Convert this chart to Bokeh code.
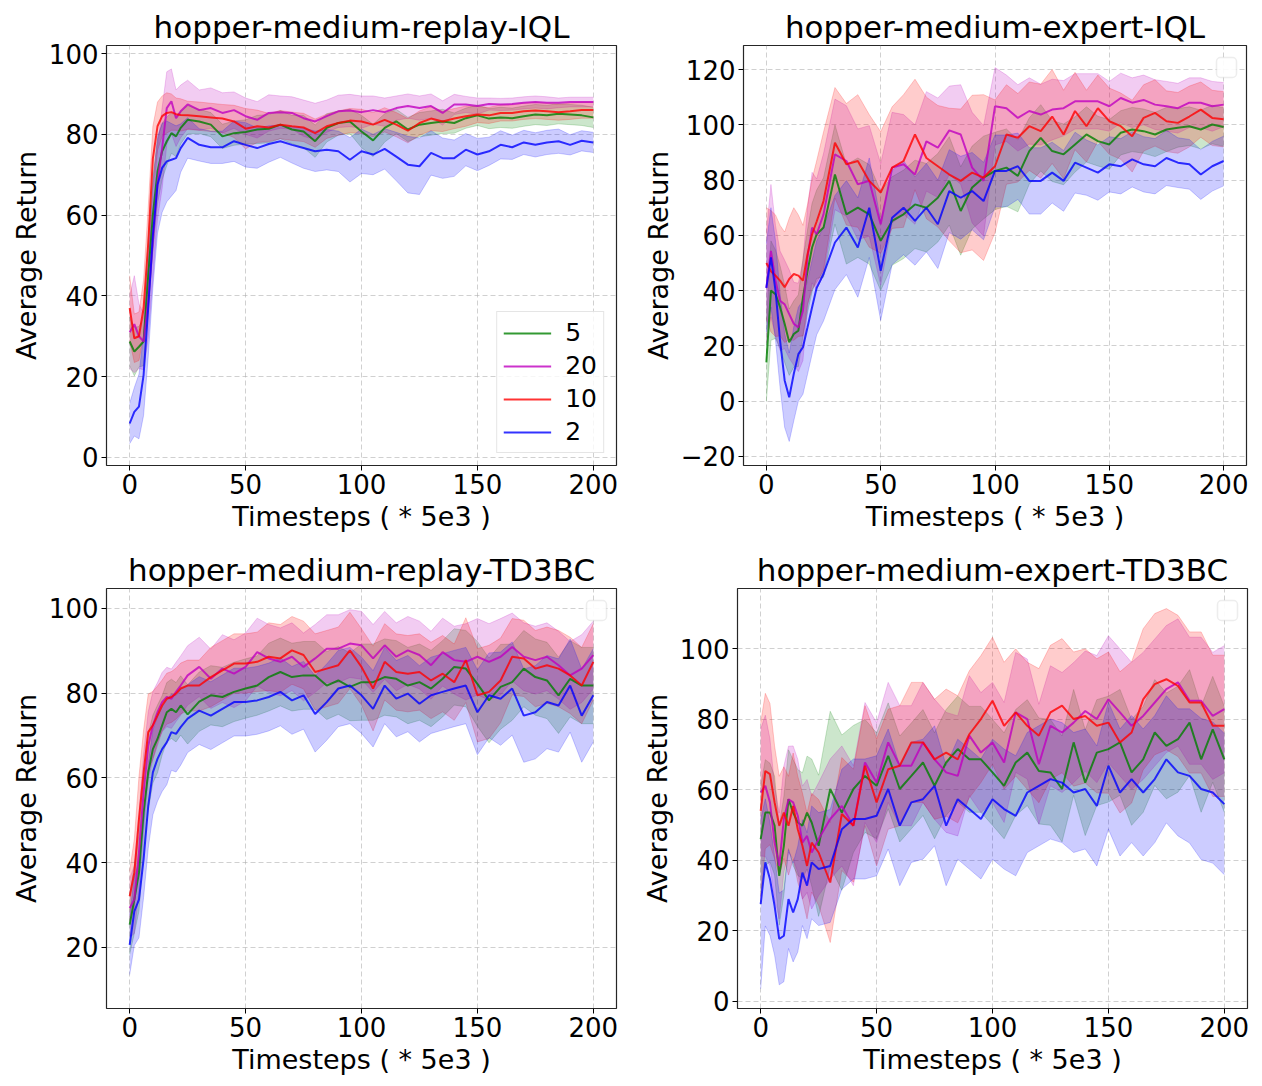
import numpy as np
from bokeh.plotting import figure
from bokeh.layouts import column, row
from bokeh.models import FixedTicker, Legend, LegendItem, BoxAnnotation, Range1d
from bokeh.embed import file_html
from bokeh.resources import INLINE

FONT = "DejaVu Sans"

# x positions (Timesteps, * 5e3); every series below has one value per step, 12 per row
steps = [0, 2, 4, 6, 8, 10, 12, 14, 16, 18, 20, 22,
         25, 30, 35, 40, 45, 50, 55, 60, 65, 70, 75, 80,
         85, 90, 95, 100, 105, 110, 115, 120, 125, 130, 135, 140,
         145, 150, 155, 160, 165, 170, 175, 180, 185, 190, 195, 200]

series_labels = ["5", "20", "10", "2"]
series_colors = ["#008000", "#bf00bf", "#ff0000", "#0000ff"]

titles = ["hopper-medium-replay-IQL", "hopper-medium-expert-IQL",
          "hopper-medium-replay-TD3BC", "hopper-medium-expert-TD3BC"]
x_ticks = [0, 50, 100, 150, 200]
x_label = "Timesteps ( * 5e3 )"
y_label = "Average Return"

# ---------------- hopper-medium-replay-IQL ----------------
mr_iql_mean_5 = [28.7, 26.2, 27.4, 28.7, 45, 60, 70.8, 75.8, 78.3, 80.3, 79.5, 81.6,
                 83.6, 83.2, 82.4, 79.5, 80.3, 80.6, 81.2, 81.4, 82.4, 81.2, 80.7, 78.3,
                 81.6, 82.8, 83.2, 80.7, 78.5, 81.6, 83.2, 81.2, 82.4, 82.8, 83.2, 82.8,
                 84, 84.7, 83.9, 84.2, 84, 84.5, 84.9, 84.7, 85.1, 84.9, 84.7, 84.2]
mr_iql_std_5 = [6, 6, 5, 6, 9, 9, 8, 7, 6, 5, 5, 4,
                3.5, 3, 3, 3, 3, 3, 3.5, 3.5, 3.5, 3.5, 4, 4,
                3.5, 3, 3, 4, 4, 3.5, 3, 3, 3, 3, 3, 2.5,
                2.5, 2.5, 2.5, 2.5, 2.5, 2.5, 2.5, 2.5, 2.5, 2.5, 2.5, 2.5]
mr_iql_mean_20 = [31, 33, 30, 28.7, 38.6, 53.5, 68, 76.6, 86.5, 88.2, 84, 85.7,
                  87.4, 86, 86.5, 85.3, 86, 84.5, 83.6, 85.3, 85.5, 85.3, 84, 83.2,
                  84.5, 85.7, 85.9, 85.5, 86, 85.5, 86.5, 87, 86.5, 87, 85.3, 87.4,
                  87.4, 87, 87.5, 87.4, 87.5, 87.8, 88, 87.8, 87.8, 88, 88, 88]
mr_iql_std_20 = [9, 12, 8, 7, 9, 9, 9, 10, 9, 8, 7, 6.5,
                 6, 5, 5, 5, 4.5, 4.5, 4.5, 4.5, 4, 4, 4.5, 4.5,
                 4, 4, 4, 4, 3.5, 3.5, 3, 3, 3, 3, 3, 2.5,
                 2, 2, 1.5, 1.5, 1.5, 1.5, 1.5, 1.5, 1.2, 1.2, 1.2, 1.2]
mr_iql_mean_10 = [37, 29.5, 30, 37, 53, 74, 82, 84.5, 85.3, 85.5, 85, 84.8,
                  84.7, 84.5, 84.2, 83.9, 83.2, 81.4, 82, 81.7, 82.4, 82, 81.7, 80.3,
                  82, 82.8, 83.4, 83.2, 82.4, 83.6, 82.4, 80.9, 82.8, 83.9, 83.2, 83.9,
                  84.5, 84.9, 84.7, 85.3, 85.3, 85.7, 85.9, 85.7, 85.5, 85.7, 86, 86]
mr_iql_std_10 = [8, 6, 6, 7, 9, 8, 6, 5, 5, 4.5, 4, 4,
                 3.5, 3.5, 3.5, 3.5, 4, 5, 4, 3.5, 3.5, 3.5, 3.5, 3.5,
                 3, 3, 3, 3, 3, 3, 3, 3, 3, 3, 2.5, 2.5,
                 2.5, 2, 2, 2, 2, 2, 2, 2, 2, 2, 2, 2]
mr_iql_mean_2 = [8.4, 11.3, 12.6, 20.4, 37, 55, 67.5, 71.7, 73.3, 73.7, 74.1, 76.6,
                 79.1, 77.4, 76.8, 76.8, 78.3, 77.4, 76.6, 77.6, 78.3, 77.4, 76.6, 75.8,
                 76.2, 75.8, 73.7, 75.8, 75, 76.4, 74.5, 72.5, 72.1, 75.4, 74.1, 74.1,
                 76.2, 75, 75.8, 77.4, 76.8, 78, 77.4, 78, 78.3, 77.4, 78.4, 78]
mr_iql_std_2 = [5, 6, 8, 10, 12, 13, 12, 11, 10, 9, 8, 6,
                5, 4, 4, 4, 5, 5.5, 5, 4.5, 4, 4.5, 5, 5,
                5, 5, 5.5, 5.5, 5, 5, 6, 7, 7, 5.5, 5, 4.5,
                4, 4, 3.5, 3.5, 3, 3, 3, 3, 3, 2.5, 2.5, 2.5]

# ---------------- hopper-medium-expert-IQL ----------------
me_iql_mean_5 = [14, 40, 38.7, 34, 28, 21.3, 24.3, 25.5, 37.5, 47, 55.6, 60.4,
                 62.8, 82, 67.6, 70, 67.6, 58, 65.2, 67.6, 71.2, 70, 73.6, 79.7,
                 68.8, 77.3, 80.9, 83.3, 84.5, 81.5, 90.5, 95.3, 90.5, 89.3, 92.9, 96.5,
                 94.1, 92.9, 97.1, 98.3, 97.7, 96.5, 98.3, 98.9, 99.5, 98.3, 100.1, 99.2]
me_iql_std_5 = [14, 18, 16, 15, 14, 12, 12, 13, 14, 15, 16, 16,
                18, 18, 18, 18, 18, 18, 16, 16, 16, 16, 16, 16,
                16, 15, 15, 14, 14, 13, 12, 12, 11, 11, 10, 10,
                9, 9, 8, 8, 8, 8, 8, 7, 7, 7, 7, 7]
me_iql_mean_20 = [41, 54.4, 43.6, 36.3, 35, 31.5, 28, 26.7, 32.7, 52, 62.8, 60.4,
                  67.6, 89.3, 86.9, 78.5, 79.7, 64, 84.5, 85.7, 82, 94, 91.7, 98,
                  96.5, 84.5, 79.7, 106.7, 106, 102.5, 105, 103.7, 105.5, 106, 108.5, 108.5,
                  108.5, 106.7, 109.7, 108, 109, 107.3, 106.7, 106, 108, 108, 106.7, 107.3]
me_iql_std_20 = [20, 24, 20, 18, 16, 16, 15, 16, 18, 18, 20, 20,
                 22, 20, 20, 20, 20, 22, 20, 18, 18, 18, 18, 16,
                 18, 20, 20, 14, 12, 12, 12, 11, 11, 10, 10, 10,
                 10, 9, 9, 9, 9, 9, 9, 9, 9, 9, 9, 8]
me_iql_mean_10 = [50, 47, 45.4, 43.6, 41.2, 44.2, 46, 45.4, 43.6, 53.2, 60.4, 65,
                  72.4, 93.5, 85.7, 86.9, 79.7, 75.5, 84.5, 86.9, 96.5, 88, 85, 82,
                  79.7, 82.7, 80.9, 85, 96.5, 95.3, 99.5, 97.7, 103, 96.5, 105, 99.5,
                  106, 101.3, 99.5, 95.9, 102.5, 104.3, 101.3, 100.7, 103, 105.5, 102.5, 102]
me_iql_std_10 = [20, 22, 22, 20, 20, 22, 24, 22, 20, 18, 20, 22,
                 25, 20, 22, 24, 24, 22, 22, 24, 20, 22, 22, 24,
                 26, 28, 30, 24, 18, 16, 16, 17, 17, 16, 14, 13,
                 12, 12, 12, 13, 12, 12, 11, 11, 11, 10, 10, 10]
me_iql_mean_2 = [41, 52, 40, 21.9, 7.5, 1.4, 9.9, 17, 19.5, 26.7, 34, 41,
                 46, 57.4, 62.8, 55.6, 70, 47.2, 66.4, 70, 65.2, 70, 64, 76,
                 73.6, 76, 72.4, 83.3, 83.3, 85, 79.7, 79.7, 82.7, 79.7, 86.3, 84.5,
                 82.7, 85.7, 85, 87.5, 85.7, 85, 88, 86.3, 85.7, 82, 85, 86.9]
me_iql_std_2 = [16, 18, 18, 17, 17, 16, 17, 17, 17, 17, 17, 17,
                17, 17, 17, 18, 18, 18, 17, 17, 16, 16, 16, 15,
                15, 14, 14, 13, 13, 12, 12, 12, 11, 11, 11, 10,
                10, 10, 10, 10, 10, 10, 10, 9, 9, 9, 9, 9]

# ---------------- hopper-medium-replay-TD3BC ----------------
mr_td3_mean_5 = [25.4, 31.3, 37.6, 51.8, 61.3, 66.8, 69.2, 72.4, 75.5, 76.3, 75.5, 77.1,
                 75, 78, 79.5, 79.1, 80.3, 81.1, 81.8, 83.8, 85, 83.8, 84.2, 84.2,
                 81.8, 83, 81.5, 82.6, 82.6, 83.8, 83.4, 81.8, 82.6, 81.1, 83.4, 86.2,
                 85.8, 82.2, 78.3, 81.5, 82.6, 85.8, 83.8, 83, 79.5, 83.4, 81.8, 81.8]
mr_td3_std_5 = [7, 8, 9, 9, 9, 8, 8, 7, 7, 7, 7, 7,
                7, 7, 7, 7, 7, 7, 7, 8, 8, 8, 8, 8,
                8, 8, 8, 9, 9, 9, 9, 9, 9, 9, 9, 9,
                9, 10, 10, 10, 9, 9, 9, 9, 9, 9, 9, 9]
mr_td3_mean_20 = [29.3, 31.3, 42.4, 56.6, 67.6, 72.4, 75.5, 77.9, 79.1, 78.7, 80.3, 81.8,
                  84.2, 86.2, 83.4, 85.8, 84.6, 86.2, 89.7, 88.2, 87.4, 88.6, 86.2, 88.2,
                  90.5, 90.5, 91.7, 91.3, 88.2, 91.3, 88.6, 90.1, 89, 86.6, 89.7, 87.8,
                  87.4, 88.6, 87.4, 88.6, 90.9, 88.6, 87.8, 88.6, 86.6, 84.2, 85.8, 89]
mr_td3_std_20 = [7, 8, 9, 9, 8, 8, 7, 7, 7, 7, 7, 7,
                 7, 7, 7, 8, 8, 8, 8, 8, 8, 8, 8, 8,
                 8, 8, 8, 8, 8, 8, 8, 8, 8, 8, 8, 8,
                 9, 9, 9, 9, 8, 8, 8, 8, 8, 8, 8, 8]
mr_td3_mean_10 = [32.1, 37.6, 50.3, 61.3, 70.8, 72.4, 74.7, 77.1, 78.7, 79.1, 79.9, 81.1,
                  81.8, 81.8, 83.8, 85.4, 87, 87, 87.4, 88.6, 88.2, 90.1, 89, 85,
                  85.8, 86.6, 90.1, 86.2, 81.1, 87.4, 85, 84.6, 85, 83, 84.6, 82.6,
                  87.8, 79.5, 80.3, 83, 88.6, 88.2, 85.8, 86.6, 85.8, 84.2, 81.8, 87.4]
mr_td3_std_10 = [6, 8, 10, 10, 9, 8, 7, 6, 6, 6, 6, 6,
                 6, 6, 7, 7, 7, 7, 7, 8, 8, 8, 8, 9,
                 9, 9, 9, 9, 10, 9, 9, 9, 9, 9, 9, 9,
                 10, 11, 11, 10, 9, 9, 9, 9, 9, 9, 9, 9]
mr_td3_mean_2 = [20.6, 28.5, 31.3, 40.8, 53.4, 61.3, 64.5, 66.8, 68.4, 70.8, 70.4, 72,
                 74, 75.9, 74.7, 76.3, 77.9, 77.9, 78.3, 79.1, 80.3, 78.3, 79.5, 75.1,
                 77.9, 81.1, 81.8, 79.5, 76.3, 81.8, 78.7, 79.9, 77.5, 79.5, 80.3, 81.1,
                 81.8, 75.5, 79.5, 78.7, 81.1, 74.7, 75.5, 77.9, 77.1, 81.8, 74.7, 79.5]
mr_td3_std_2 = [7, 8, 9, 9, 10, 10, 10, 10, 10, 9, 9, 9,
                8, 8, 8, 8, 8, 8, 8, 8, 8, 8, 8, 9,
                9, 9, 9, 9, 9, 9, 9, 9, 9, 9, 9, 9,
                9, 10, 10, 11, 11, 11, 11, 11, 11, 11, 11, 11]

# ---------------- hopper-medium-expert-TD3BC ----------------
me_td3_mean_5 = [46, 53.5, 53.5, 49.8, 35.6, 44.1, 57.3, 53.5, 50.7, 49.8, 53.5, 50.7,
                 44.1, 60.2, 53.5, 60.2, 63.9, 61.1, 69.6, 60.2, 63.9, 67.7, 61.1, 67.7,
                 71.5, 68.6, 68.6, 64.9, 61.1, 67.7, 70.5, 65.3, 64.9, 60.2, 73.4, 62,
                 70.5, 71.5, 73.4, 64.9, 68.6, 76.2, 72.4, 74.3, 79, 68.6, 77.1, 68.6]
me_td3_std_5 = [15, 15, 14, 14, 14, 14, 14, 15, 15, 15, 16, 18,
                20, 22, 22, 18, 16, 15, 15, 15, 15, 15, 15, 15,
                15, 15, 15, 15, 15, 15, 15, 15, 15, 15, 15, 15,
                15, 15, 15, 15, 15, 15, 15, 15, 15, 15, 15, 15]
me_td3_mean_20 = [59.2, 61.1, 56.4, 45, 38.4, 51.7, 57.3, 56.4, 52.6, 45, 46.9, 42.2,
                  46, 51.7, 55.4, 49.8, 67.7, 62, 73.4, 66.8, 66.8, 73.4, 68.6, 64.9,
                  63.9, 75.3, 70.5, 73.4, 67.7, 81.9, 80, 67.2, 78.1, 76.2, 79, 82.3,
                  80, 85.6, 81.9, 78.1, 80.9, 84.7, 88.5, 90.4, 85.2, 85.2, 80.9, 82.8]
me_td3_std_20 = [18, 20, 18, 16, 15, 15, 15, 16, 16, 16, 16, 16,
                 16, 17, 17, 17, 17, 17, 17, 17, 17, 17, 17, 17,
                 17, 17, 17, 17, 17, 17, 17, 17, 17, 17, 17, 17,
                 18, 18, 18, 18, 18, 18, 18, 18, 18, 18, 18, 18]
me_td3_mean_10 = [54, 65.3, 64.4, 56.4, 49.8, 53.5, 49.8, 55.4, 48.8, 44.1, 38.4, 45,
                  42.2, 33.7, 53.1, 49.8, 66.8, 56.4, 65.8, 66.8, 73.4, 73.4, 68.6, 70.5,
                  68.6, 75.7, 80, 85.2, 78.1, 81.9, 78.1, 75.3, 81.9, 83.8, 80, 80.9,
                  78.1, 79, 73.4, 76.2, 85.6, 89.9, 91.3, 89.4, 84.7, 84.7, 78.1, 78.1]
me_td3_std_10 = [25, 22, 20, 16, 14, 13, 14, 15, 15, 15, 15, 14,
                 15, 17, 16, 16, 17, 18, 17, 17, 17, 17, 17, 18,
                 18, 18, 18, 18, 18, 18, 18, 19, 19, 19, 19, 19,
                 19, 20, 20, 20, 20, 20, 20, 20, 20, 20, 20, 20]
me_td3_mean_2 = [27.6, 39.4, 34.7, 27.1, 17.7, 18.6, 29, 25.2, 29, 36.5, 32.8, 39.4,
                 37.5, 38.4, 48.8, 51.7, 51.7, 52.6, 60.2, 49.8, 56.4, 57.3, 61.1, 49.8,
                 57.3, 54.5, 51.7, 57.3, 54.5, 52.6, 59.2, 61.1, 63, 62, 59.2, 60.2,
                 55.4, 66.8, 59.2, 63, 59.2, 63, 68.6, 64.9, 63.9, 60.2, 59.2, 55.9]
me_td3_std_2 = [24, 18, 16, 14, 13, 13, 14, 14, 15, 15, 15, 16,
                16, 16, 17, 17, 17, 17, 17, 17, 17, 17, 17, 17,
                17, 17, 17, 17, 17, 17, 17, 17, 17, 17, 17, 17,
                17, 18, 18, 18, 18, 18, 18, 18, 19, 20, 20, 20]

panels = [
    dict(title=titles[0],
         means=[mr_iql_mean_5, mr_iql_mean_20, mr_iql_mean_10, mr_iql_mean_2],
         stds=[mr_iql_std_5, mr_iql_std_20, mr_iql_std_10, mr_iql_std_2],
         yr=(-2, 102), yt=[0, 20, 40, 60, 80, 100],
         w=625, h=545, bl=106, br=9, bt=45, bb=80, legend=True),
    dict(title=titles[1],
         means=[me_iql_mean_5, me_iql_mean_20, me_iql_mean_10, me_iql_mean_2],
         stds=[me_iql_std_5, me_iql_std_20, me_iql_std_10, me_iql_std_2],
         yr=(-23.3, 128.7), yt=[-20, 0, 20, 40, 60, 80, 100, 120],
         w=629, h=545, bl=118, br=8, bt=45, bb=80, legend=False),
    dict(title=titles[2],
         means=[mr_td3_mean_5, mr_td3_mean_20, mr_td3_mean_10, mr_td3_mean_2],
         stds=[mr_td3_std_5, mr_td3_std_20, mr_td3_std_10, mr_td3_std_2],
         yr=(5.6, 104.7), yt=[20, 40, 60, 80, 100],
         w=625, h=535, bl=106, br=9, bt=43, bb=72, legend=False),
    dict(title=titles[3],
         means=[me_td3_mean_5, me_td3_mean_20, me_td3_mean_10, me_td3_mean_2],
         stds=[me_td3_std_5, me_td3_std_20, me_td3_std_10, me_td3_std_2],
         yr=(-2, 117), yt=[0, 20, 40, 60, 80, 100],
         w=629, h=535, bl=112, br=7, bt=43, bb=72, legend=False),
]


def make_panel(cfg):
    x0, x1 = -10, 210
    y0, y1 = cfg["yr"]
    p = figure(width=cfg["w"], height=cfg["h"], title=cfg["title"],
               x_range=Range1d(x0, x1), y_range=Range1d(y0, y1),
               output_backend="svg", toolbar_location=None,
               min_border_left=cfg["bl"], min_border_right=cfg["br"],
               min_border_top=cfg["bt"], min_border_bottom=cfg["bb"])
    p.title.text_font = FONT
    p.title.text_font_size = "31px"
    p.title.text_font_style = "normal"
    p.title.align = "center"
    p.title.text_color = "black"
    p.title.standoff = 2

    p.outline_line_color = "black"
    p.outline_line_width = 1.2
    p.outline_line_alpha = 0.85

    for ax in p.axis:
        ax.axis_line_color = None
        ax.major_tick_in = 0
        ax.major_tick_out = 5
        ax.major_tick_line_color = "black"
        ax.minor_tick_line_color = None
        ax.major_label_text_font = FONT
        ax.major_label_text_font_size = "26px"
        ax.major_label_text_color = "black"
        ax.axis_label_text_font = FONT
        ax.axis_label_text_font_size = "27px"
        ax.axis_label_text_font_style = "normal"
        ax.axis_label_text_color = "black"
        ax.major_label_standoff = 3
        ax.axis_label_standoff = 4

    p.xaxis.ticker = FixedTicker(ticks=x_ticks)
    p.yaxis.ticker = FixedTicker(ticks=cfg["yt"])
    p.yaxis.major_label_overrides = {t: ("\u2212" + str(abs(t))) for t in cfg["yt"] if t < 0}
    p.xaxis.axis_label = x_label
    p.yaxis.axis_label = y_label

    p.grid.grid_line_color = "#b0b0b0"
    p.grid.grid_line_alpha = 0.6
    p.grid.grid_line_dash = "5 3"
    p.grid.grid_line_width = 1

    xs = np.array(steps, dtype=float)
    # shaded bands first, then the mean lines on top
    for m, s, c in zip(cfg["means"], cfg["stds"], series_colors):
        m = np.array(m, dtype=float)
        s = np.array(s, dtype=float)
        p.varea(x=xs, y1=m - s, y2=m + s, fill_color=c, fill_alpha=0.2)
        p.line(xs, m - s, line_color=c, line_alpha=0.2, line_width=1)
        p.line(xs, m + s, line_color=c, line_alpha=0.2, line_width=1)
    lines = []
    for m, c in zip(cfg["means"], series_colors):
        r = p.line(xs, np.array(m, dtype=float), line_color=c, line_alpha=0.8, line_width=2)
        lines.append(r)

    fw = cfg["w"] - cfg["bl"] - cfg["br"]
    fh = cfg["h"] - cfg["bt"] - cfg["bb"]
    if cfg["legend"]:
        items = [LegendItem(label=l, renderers=[r]) for l, r in zip(series_labels, lines)]
        leg = Legend(items=items, location="bottom_right")
        leg.label_text_font = FONT
        leg.label_text_font_size = "25px"
        leg.label_text_color = "black"
        leg.border_line_color = "#cccccc"
        leg.border_line_width = 1
        leg.background_fill_color = "white"
        leg.background_fill_alpha = 0.8
        leg.margin = 12
        leg.padding = 6
        leg.spacing = 4
        leg.glyph_width = 48
        leg.glyph_height = 26
        leg.label_height = 26
        leg.label_standoff = 14
        p.add_layout(leg)
    else:
        ppx = fw / (x1 - x0)
        ppy = fh / (y1 - y0)
        right = x1 - 10 / ppx
        left = right - 20 / ppx
        top = y1 - 12 / ppy
        bottom = top - 20 / ppy
        box = BoxAnnotation(left=left, right=right, top=top, bottom=bottom,
                            fill_color="white", fill_alpha=0.9,
                            line_color="#c4c4c4", line_width=1.5, border_radius=4)
        p.add_layout(box)
    return p


figs = [make_panel(c) for c in panels]
layout = column(row(figs[0], figs[1]), row(figs[2], figs[3]))

open("out.html", "w").write(file_html(layout, INLINE))
